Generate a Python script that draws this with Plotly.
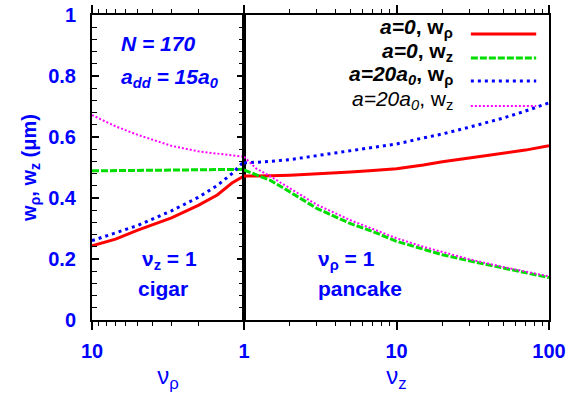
import plotly.graph_objects as go

# ---- data (left panel: cigar, nu_z = 1; right panel: pancake, nu_rho = 1) ----
nu_rho = [10, 7, 5, 3, 2, 1.5, 1.2, 1]
red_L = [0.243, 0.265, 0.295, 0.335, 0.376, 0.41, 0.449, 0.472]
green_L = [0.489, 0.49, 0.49, 0.491, 0.492, 0.493, 0.493, 0.494]
blue_L = [0.26, 0.286, 0.31, 0.358, 0.402, 0.441, 0.48, 0.52]
magenta_L = [0.672, 0.635, 0.607, 0.571, 0.553, 0.545, 0.54, 0.535]

nu_z = [1, 1.2, 1.5, 2, 3, 5, 7, 10, 15, 20, 30, 50, 70, 100]
red_R = [0.472, 0.472, 0.473, 0.475, 0.479, 0.485, 0.49, 0.496, 0.508, 0.519, 0.531, 0.546, 0.557, 0.571]
green_R = [0.492, 0.477, 0.457, 0.42, 0.366, 0.316, 0.29, 0.258, 0.232, 0.214, 0.194, 0.17, 0.155, 0.139]
blue_R = [0.515, 0.517, 0.52, 0.526, 0.539, 0.553, 0.564, 0.577, 0.597, 0.61, 0.632, 0.662, 0.685, 0.712]
magenta_R = [0.535, 0.497, 0.47, 0.432, 0.378, 0.327, 0.299, 0.268, 0.24, 0.222, 0.199, 0.174, 0.158, 0.143]

y_ticks = [0, 0.2, 0.4, 0.6, 0.8, 1]
y_tick_labels = ["0", "0.2", "0.4", "0.6", "0.8", "1"]

legend_labels = [
    "<i>a=0</i>, w<sub>ρ</sub>",
    "<i>a=0</i>, w<sub>z</sub>",
    "<i>a=20a<sub>0</sub></i>, w<sub>ρ</sub>",
    "<i>a=20a<sub>0</sub></i>, w<sub>z</sub>",
]

BLUE = "#0000ff"
FONT = "Liberation Sans"
styles = [
    dict(color="#ff0000", width=3, dash="solid"),
    dict(color="#00dd00", width=3, dash="7px,2px"),
    dict(color="#0000ff", width=3, dash="3px,4px"),
    dict(color="#ff00ff", width=2, dash="2px,2px"),
]

fig = go.Figure()
for ys, st in zip([red_L, green_L, blue_L, magenta_L], styles):
    fig.add_trace(go.Scatter(x=nu_rho, y=ys, mode="lines", line=st, xaxis="x", yaxis="y",
                             showlegend=False))
for ys, st in zip([red_R, green_R, blue_R, magenta_R], styles):
    fig.add_trace(go.Scatter(x=nu_z, y=ys, mode="lines", line=st, xaxis="x2", yaxis="y2",
                             showlegend=False))

split = 152 / 457
tickfont = dict(family=FONT, size=20, color=BLUE, weight="bold")
minor_x = dict(ticks="outside", ticklen=4, tickwidth=1, tickcolor="black", showgrid=False)

xcommon = dict(type="log", showgrid=False, zeroline=False, showline=True, linecolor="black",
               linewidth=2, ticks="outside", ticklen=8, tickwidth=1.5, tickcolor="black",
               mirror="ticks", tickfont=tickfont, ticklabelstandoff=4, automargin=False)

fig.update_layout(
    width=574, height=400,
    margin=dict(l=92, r=25, t=15, b=80, autoexpand=False),
    paper_bgcolor="white", plot_bgcolor="white",
    showlegend=False,
    xaxis=dict(domain=[0, split], range=[1, 0], anchor="y",
               tickvals=[10, 1], ticktext=["10", "1"],
               title=dict(text="ν<sub>ρ</sub>", font=dict(family=FONT, size=24, color=BLUE),
                          standoff=6),
               minor=dict(minor_x, tickvals=[2, 3, 4, 5, 6, 7, 8, 9]),
               **xcommon),
    xaxis2=dict(domain=[split, 1], range=[0, 2], anchor="y2",
                tickvals=[1, 10, 100], ticktext=["", "10", "100"],
                title=dict(text="ν<sub>z</sub>", font=dict(family=FONT, size=24, color=BLUE),
                           standoff=6),
                minor=dict(minor_x,
                           tickvals=[2, 3, 4, 5, 6, 7, 8, 9, 20, 30, 40, 50, 60, 70, 80, 90]),
                **xcommon),
    yaxis=dict(range=[0, 1], anchor="x", showgrid=False, zeroline=False, showline=True,
               linecolor="black", linewidth=2, ticks="inside", ticklen=7, tickwidth=1.5,
               tickcolor="black", mirror="ticks", tickvals=y_ticks, ticktext=y_tick_labels,
               tickfont=tickfont, ticklabelstandoff=10, automargin=False,
               minor=dict(ticks="inside", ticklen=5, tickwidth=1, tickcolor="black",
                          dtick=0.04, showgrid=False),
               title=dict(text="w<sub>ρ</sub>, w<sub>z</sub> (μm)",
                          font=dict(family=FONT, size=20, color=BLUE, weight="bold"),
                          standoff=6)),
    yaxis2=dict(range=[0, 1], anchor="x2", matches="y", showgrid=False, zeroline=False,
                showline=True, linecolor="black", linewidth=2, mirror=True, ticks="",
                showticklabels=False, automargin=False),
)

# in-panel texts
ann_font = dict(family=FONT, size=21, color=BLUE, weight="bold")
fig.add_annotation(xref="paper", yref="paper", x=0.058, y=0.905, xanchor="left", yanchor="middle",
                   text="<i>N = 170</i>", showarrow=False, font=ann_font)
fig.add_annotation(xref="paper", yref="paper", x=0.058, y=0.795, xanchor="left", yanchor="middle",
                   text="<i>a<sub>dd</sub> = 15a<sub>0</sub></i>", showarrow=False, font=ann_font)
fig.add_annotation(xref="paper", yref="paper", x=0.17, y=0.198, xanchor="center", yanchor="middle",
                   text="ν<sub>z</sub> = 1", showarrow=False, font=ann_font)
fig.add_annotation(xref="paper", yref="paper", x=0.155, y=0.102, xanchor="center", yanchor="middle",
                   text="cigar", showarrow=False, font=ann_font)
fig.add_annotation(xref="paper", yref="paper", x=0.49, y=0.198, xanchor="left", yanchor="middle",
                   text="ν<sub>ρ</sub> = 1", showarrow=False, font=ann_font)
fig.add_annotation(xref="paper", yref="paper", x=0.49, y=0.102, xanchor="left", yanchor="middle",
                   text="pancake", showarrow=False, font=ann_font)

# legend (text on the left, sample line on the right)
leg_y = [0.938, 0.859, 0.784, 0.702]
weights = ["bold", "bold", "bold", "normal"]
for lab, yy, st, wt in zip(legend_labels, leg_y, styles, weights):
    fig.add_annotation(xref="paper", yref="paper", x=0.795, y=yy + 0.019, xanchor="right",
                       yanchor="middle", text=lab, showarrow=False,
                       font=dict(family=FONT, size=21, color="black", weight=wt))
    fig.add_shape(type="line", xref="paper", yref="paper", x0=0.829, x1=0.972,
                  y0=yy, y1=yy, line=st)

fig.write_html("out.html", config={"displayModeBar": False},
               post_script="document.body.style.margin='0';document.body.style.padding='0';")
